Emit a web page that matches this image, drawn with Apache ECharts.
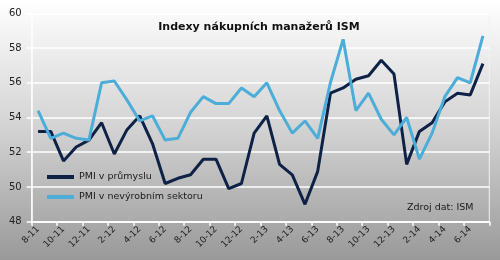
<!DOCTYPE html>
<html>
<head>
<meta charset="utf-8">
<script src="https://cdn.jsdelivr.net/npm/echarts@6/dist/echarts.min.js"></script>
<style>
html,body{margin:0;padding:0;}
#c{width:500px;height:260px;background:linear-gradient(to bottom,#ffffff 0%,#d2d2d2 50%,#999999 100%);}
</style>
</head>
<body>
<div id="c"></div>
<script>
var months = ["8-11","9-11","10-11","11-11","12-11","1-12","2-12","3-12","4-12","5-12","6-12","7-12",
  "8-12","9-12","10-12","11-12","12-12","1-13","2-13","3-13","4-13","5-13","6-13","7-13",
  "8-13","9-13","10-13","11-13","12-13","1-14","2-14","3-14","4-14","5-14","6-14","7-14"];
var pmiManufacturing = [53.2,53.2,51.5,52.3,52.7,53.7,51.9,53.3,54.1,52.5,50.2,50.5,
  50.7,51.6,51.6,49.9,50.2,53.1,54.1,51.3,50.7,49.0,50.9,55.4,
  55.7,56.2,56.4,57.3,56.5,51.3,53.2,53.7,54.9,55.4,55.3,57.1];
var pmiServices = [54.4,52.8,53.1,52.8,52.7,56.0,56.1,55.0,53.8,54.1,52.7,52.8,
  54.3,55.2,54.8,54.8,55.7,55.2,56.0,54.4,53.1,53.8,52.8,56.0,
  58.5,54.4,55.4,53.9,53.0,54.0,51.6,53.1,55.2,56.3,56.0,58.7];
var seriesNames = ["PMI v průmyslu","PMI v nevýrobním sektoru"];
var titleText = "Indexy nákupních manažerů ISM";
var sourceText = "Zdroj dat: ISM";

var chart = echarts.init(document.getElementById('c'), null, {renderer:'canvas'});
var font = 'DejaVu Sans';
chart.setOption({
  animation:false,
  backgroundColor:'transparent',
  title:{
    text:titleText, left:254, top:17, textAlign:'center',
    textStyle:{fontFamily:font, fontSize:11, fontWeight:'bold', color:'#111'}
  },
  graphic:[{
    type:'text', left:407, top:203,
    style:{text:sourceText, font:'9.5px "DejaVu Sans"', fill:'#1a1a1a'}
  }],
  legend:{
    orient:'vertical', left:42, top:167, itemGap:10,
    itemWidth:27, itemHeight:4, icon:'rect',
    textStyle:{fontFamily:font, fontSize:9.5, color:'#1a1a1a'},
    data:seriesNames
  },
  grid:{left:31.7, right:10.7, top:13.3, bottom:38.3, show:true, borderColor:'#f2f2f2', borderWidth:1, backgroundColor:'transparent'},
  xAxis:{
    type:'category', data:months, boundaryGap:true,
    axisLine:{lineStyle:{color:'#ffffff', width:1.5}},
    axisTick:{show:true, interval:1, length:4, lineStyle:{color:'#ffffff', width:1.5}},
    axisLabel:{interval:1, rotate:45, margin:6, fontFamily:font, fontSize:9, color:'#222'},
    splitLine:{show:false}
  },
  yAxis:{
    type:'value', min:48, max:60, interval:2,
    axisLine:{show:true, lineStyle:{color:'#ffffff', width:1.5}},
    axisTick:{show:true, length:5, lineStyle:{color:'#ffffff', width:1.5}},
    axisLabel:{margin:10, fontFamily:font, fontSize:10, color:'#222'},
    splitLine:{lineStyle:{color:'#ffffff', width:1.5}}
  },
  series:[
    {name:seriesNames[0], type:'line', data:pmiManufacturing, symbol:'none',
     lineStyle:{color:'#0d2246', width:3}, itemStyle:{color:'#0d2246'}},
    {name:seriesNames[1], type:'line', data:pmiServices, symbol:'none',
     lineStyle:{color:'#4badd8', width:3}, itemStyle:{color:'#4badd8'}}
  ]
});
</script>
</body>
</html>
